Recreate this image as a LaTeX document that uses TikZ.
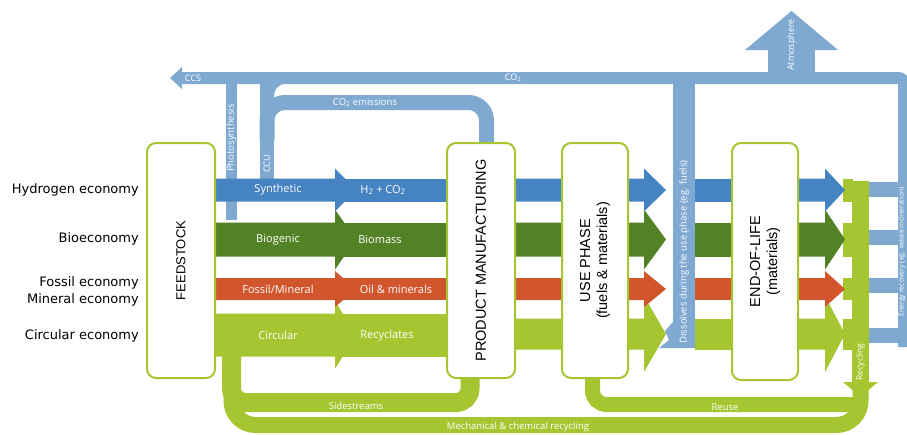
\documentclass[tikz,border=0pt]{standalone}
\usepackage{fontspec}
\setmainfont{Open Sans}
\newfontfamily\econfont{DejaVu Sans}
\newfontfamily\stagefont{Liberation Sans}
\usepackage{tikz}
\usetikzlibrary{calc}
\definecolor{hydblue}{RGB}{70,131,194}
\definecolor{biogreen}{RGB}{83,130,38}
\definecolor{fosred}{RGB}{209,86,46}
\definecolor{circgreen}{RGB}{165,198,49}
\definecolor{carbon}{RGB}{128,169,209}
\def\stagebox{\node[draw=circgreen,line width=2pt,fill=white,rounded corners=9pt,inner sep=0pt]}
\def\stagetext{\node[rotate=90,align=center,font=\stagefont\fontsize{14.5}{17}\selectfont]}
\def\econtext{\node[anchor=east,inner sep=0pt,font=\econfont\fontsize{13}{15}\selectfont]}
\def\flowtext{\node[text=white,inner sep=0pt,font=\fontsize{11}{13}\selectfont]}
\def\smalltext{\node[text=white,inner sep=0pt,font=\fontsize{9.5}{11}\selectfont]}
\def\drawcarbon{\draw[carbon,line cap=butt]}
\def\drawcirc{\draw[circgreen,line cap=butt]}
% colour, y, band half, head half, start, head base, tip
\def\flowarrow#1#2#3#4#5#6#7{\fill[#1] (#5,#2-#3) -- (#6,#2-#3) -- (#6,#2-#4) -- (#7,#2) -- (#6,#2+#4) -- (#6,#2+#3) -- (#5,#2+#3) -- cycle;}
\def\flowband#1#2#3#4#5{\fill[#1] (#4,#2-#3) rectangle (#5,#2+#3);}

\begin{document}
\begin{tikzpicture}[x=1pt,y=-1pt]
\useasboundingbox (0,0) rectangle (907,434);

% CO2 line over the top, down into energy recovery
\coordinate (ccs) at (170,78);
\coordinate (co2_corner) at (904,78);
\coordinate (energy_end) at (904,347);
\fill[carbon] (ccs) -- ($ (ccs) + (12,-11) $) -- ($ (ccs) + (12,11) $) -- cycle;
\drawcarbon[line width=12pt,rounded corners=6pt] ($ (ccs) + (11,0) $) -- (co2_corner) -- (energy_end);
\foreach \ys in {189.5,237.5,285.5,335.5}
  \drawcarbon[line width=15pt] (865,\ys) -- (900,\ys);

% Atmosphere
\coordinate (atmo) at (791.5,11);
\fill[carbon] (768,80) rectangle (815,50);
\fill[carbon] (atmo) -- ($ (atmo) + (46.5,39) $) -- ($ (atmo) + (-46.5,39) $) -- cycle;

% Photosynthesis, CCU and the emissions loop
\coordinate (photo_top) at (231.5,78);
\coordinate (ccu_top) at (267,78);
\drawcarbon[line width=11pt] (photo_top) -- ($ (photo_top) + (0,142) $);
\drawcarbon[line width=14pt] (ccu_top) -- ($ (ccu_top) + (0,101) $);
\drawcarbon[line width=15pt,rounded corners=18pt] (486.5,145) -- (486.5,102.5) -- (267,102.5) -- (267,140);
\fill[carbon] (273,83) -- (286,83) .. controls (278,85) and (274,89) .. (274,96) -- cycle;

% Dissolves during the use phase
\coordinate (dissolve_top) at (684,78);
\coordinate (dissolve_end) at (684,348);
\drawcarbon[line width=22pt] (dissolve_top) -- (dissolve_end);

% Loops back to the feedstock
\drawcirc[line width=16pt,rounded corners=24pt] (860.5,385) -- (860.5,425) -- (231.5,425) -- (231.5,345);
\drawcirc[line width=19pt,rounded corners=14pt] (470,375) -- (470,402.5) -- (231.5,402.5) -- (231.5,345);
\drawcirc[line width=15pt,rounded corners=14pt] (853,404.5) -- (592.5,404.5) -- (592.5,375);

% Recycling
\coordinate (recycle_tip) at (860.5,397);
\fill[circgreen] (852,181) rectangle (869,384);
\fill[circgreen] (recycle_tip) -- ($ (recycle_tip) + (17.5,-15) $) -- ($ (recycle_tip) + (-17.5,-15) $) -- cycle;

% The four streams
\foreach \col/\ya/\ha/\Ha/\yb/\hb/\Hb in {circgreen/335/21.5/34/334/15.5/38, fosred/289/11/18/289/11/18, biogreen/239.5/17/30/239.5/17/30, hydblue/190/11.5/21.5/190/11.5/21.5}{
  \fill[circgreen] (843,\yb-\hb) rectangle (853,\yb+\hb);
  \flowarrow{\col}{\ya}{\ha}{\Ha}{212}{335}{356}
  \flowband{\col}{\ya}{\ha}{340}{450}
  \flowarrow{\col}{\yb}{\hb}{\Hb}{512}{644}{666}
  \flowband{\col}{\yb}{\hb}{695}{735}
  \flowarrow{\col}{\yb}{\hb}{\Hb}{795}{825}{845}
}
\fill[carbon] (673,322) -- (665,331) -- (669,340) -- (659,348) -- (695,348) -- (695,322) -- cycle;

% Stages
\stagebox[minimum width=68pt,minimum height=235pt] (feed) at (181,260.5) {};
\stagebox[minimum width=68pt,minimum height=235pt] (manuf) at (481,260.5) {};
\stagebox[minimum width=66pt,minimum height=235pt] (use) at (595,260.5) {};
\stagebox[minimum width=66pt,minimum height=237pt] (eol) at (765,261.5) {};
\stagetext[font=\stagefont\fontsize{13}{15}\selectfont] (feed_label) at (feed) {FEEDSTOCK};
\stagetext (manuf_label) at (manuf) {PRODUCT MANUFACTURING};
\stagetext (use_label) at (use) {USE PHASE\\(fuels \& materials)};
\stagetext (eol_label) at (eol) {END-OF-LIFE\\(materials)};

% Economies
\econtext (hyd_econ) at (139,190) {Hydrogen economy};
\econtext (bio_econ) at (139,239) {Bioeconomy};
\econtext (fos_econ) at (139,283) {Fossil economy};
\econtext (min_econ) at (139,300) {Mineral economy};
\econtext (circ_econ) at (139,336) {Circular economy};

% Stream labels
\flowtext (synthetic) at (278,190) {Synthetic};
\flowtext (hydrogen) at (383,190) {H\textsubscript{2} + CO\textsubscript{2}};
\flowtext (biogenic) at (278,240) {Biogenic};
\flowtext (biomass) at (380,240) {Biomass};
\flowtext (fossil) at (278,289) {Fossil/Mineral};
\flowtext (oil) at (396,289) {Oil \& minerals};
\flowtext (circular) at (278,335) {Circular};
\flowtext (recyclates) at (387,336) {Recyclates};

\smalltext[font=\fontsize{9}{10}\selectfont] (ccs_label) at (193,78) {CCS};
\smalltext[font=\fontsize{9}{10}\selectfont] (co2_label) at (513,78) {CO\textsubscript{2}};
\smalltext (emis_label) at (365,102.5) {CO\textsubscript{2} emissions};
\smalltext[rotate=90] (photo_label) at (231.5,138) {Photosynthesis};
\smalltext[rotate=90,font=\fontsize{9}{10}\selectfont] (ccu_label) at (267,164) {CCU};
\smalltext[rotate=90,font=\fontsize{9}{10}\selectfont] (atmo_label) at (791.5,45) {Atmosphere};
\smalltext[rotate=90] (dissolve_label) at (684,252) {Dissolves during the use phase (eg. fuels)};
\smalltext[rotate=90,font=\fontsize{7}{8}\selectfont] (energy_label) at (902,252) {Energy recovery (eg. waste incineration)};
\smalltext[rotate=90,font=\fontsize{8.5}{10}\selectfont] (recycle_label) at (860.5,362) {Recycling};
\smalltext (side_label) at (356,406) {Sidestreams};
\smalltext (reuse_label) at (725,407) {Reuse};
\smalltext (mech_label) at (518,427) {Mechanical \& chemical recycling};
\end{tikzpicture}
\end{document}
